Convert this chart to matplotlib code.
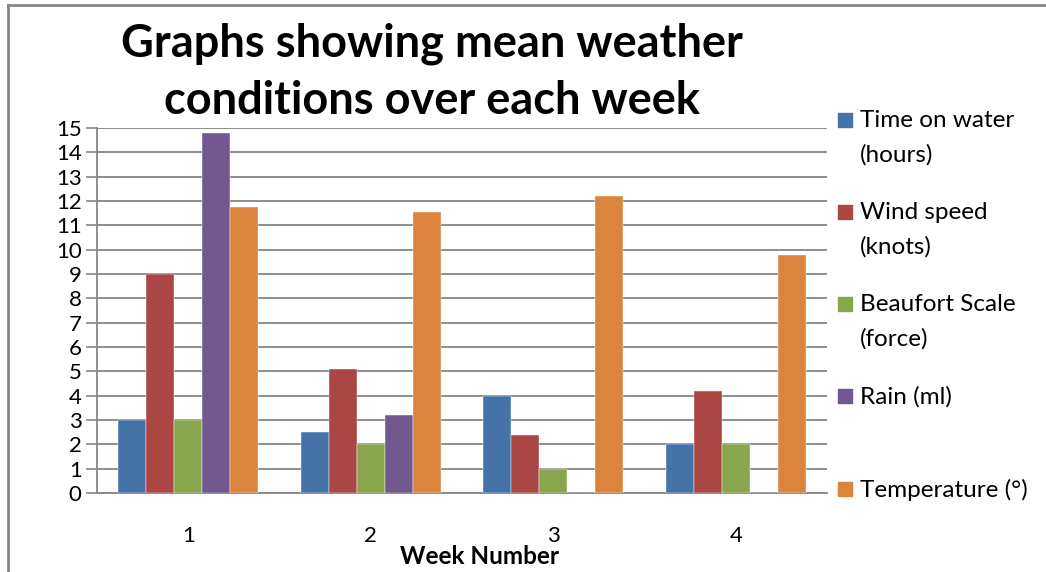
import numpy as np
import matplotlib
matplotlib.use('Agg')
import matplotlib.pyplot as plt
from matplotlib.patches import Rectangle
from matplotlib.lines import Line2D

# data
weeks = ['1', '2', '3', '4']
series_labels = ['Time on water\n(hours)', 'Wind speed\n(knots)',
                 'Beaufort Scale\n(force)', 'Rain (ml)', 'Temperature (°)']
time_on_water = [3, 2.5, 4, 2]
wind_speed = [9, 5.1, 2.4, 4.2]
beaufort = [3, 2, 1, 2]
rain = [14.8, 3.2, 0, 0]
temperature = [11.75, 11.55, 12.2, 9.8]

values = [time_on_water, wind_speed, beaufort, rain, temperature]
colors = ['#4572A7', '#AA4643', '#89A54E', '#71588F', '#DB843D']

plt.rcParams['font.family'] = ['Lato', 'DejaVu Sans']

fig = plt.figure(figsize=(10.46, 5.72), dpi=100)
ax = fig.add_axes([97 / 1046, 79 / 572, 730 / 1046, 365 / 572])

n = len(values)
index = np.arange(len(weeks))
bar_width = 1.0 / (n + 1.5)

for i in range(n):
    offset = (i - (n - 1) / 2.0) * bar_width
    ax.bar(index + offset, values[i], bar_width, color=colors[i],
           edgecolor='white', linewidth=0.3, zorder=3)

ax.set_xlim(-0.5, len(weeks) - 0.5)
ax.set_ylim(0, 15)
ax.set_yticks(range(0, 16))
ax.tick_params(axis='y', labelsize=16, length=8, width=1.2, color='#868686', pad=3)
ax.set_xticks(index)
ax.set_xticklabels(weeks)
ax.tick_params(axis='x', labelsize=16, length=0, pad=24)
ax.yaxis.grid(True, color='#868686', linewidth=1.3, zorder=0)
ax.set_axisbelow(True)

for side in ['top', 'right']:
    ax.spines[side].set_visible(False)
for side in ['left', 'bottom']:
    ax.spines[side].set_color('#868686')
    ax.spines[side].set_linewidth(1.3)

# title and axis label
fig.text(432 / 1046, 1 - 72 / 572, 'Graphs showing mean weather\nconditions over each week',
         ha='center', va='center', fontsize=32.5, fontweight='bold', linespacing=1.45)
fig.text(479 / 1046, 1 - 557 / 572, 'Week Number', ha='center', va='center',
         fontsize=17.5, fontweight='bold')

# legend, drawn like the spreadsheet one
leg_y = [120, 212, 304, 396, 489]
for i in range(n):
    y = 1 - leg_y[i] / 572
    fig.patches.append(Rectangle((838 / 1046, y - 7 / 572), 14 / 1046, 14 / 572,
                                 transform=fig.transFigure, color=colors[i]))
    fig.text(860 / 1046, y + 10 / 572, series_labels[i], ha='left', va='top',
             fontsize=17.5, linespacing=1.75)

# outer frame of the chart
fig.lines.append(Line2D([8 / 1046, 1], [1 - 5 / 572, 1 - 5 / 572],
                        transform=fig.transFigure, color='#868686', linewidth=2))
fig.lines.append(Line2D([8 / 1046, 8 / 1046], [0, 1 - 5 / 572],
                        transform=fig.transFigure, color='#868686', linewidth=2))

plt.savefig('out.png', dpi=100)
